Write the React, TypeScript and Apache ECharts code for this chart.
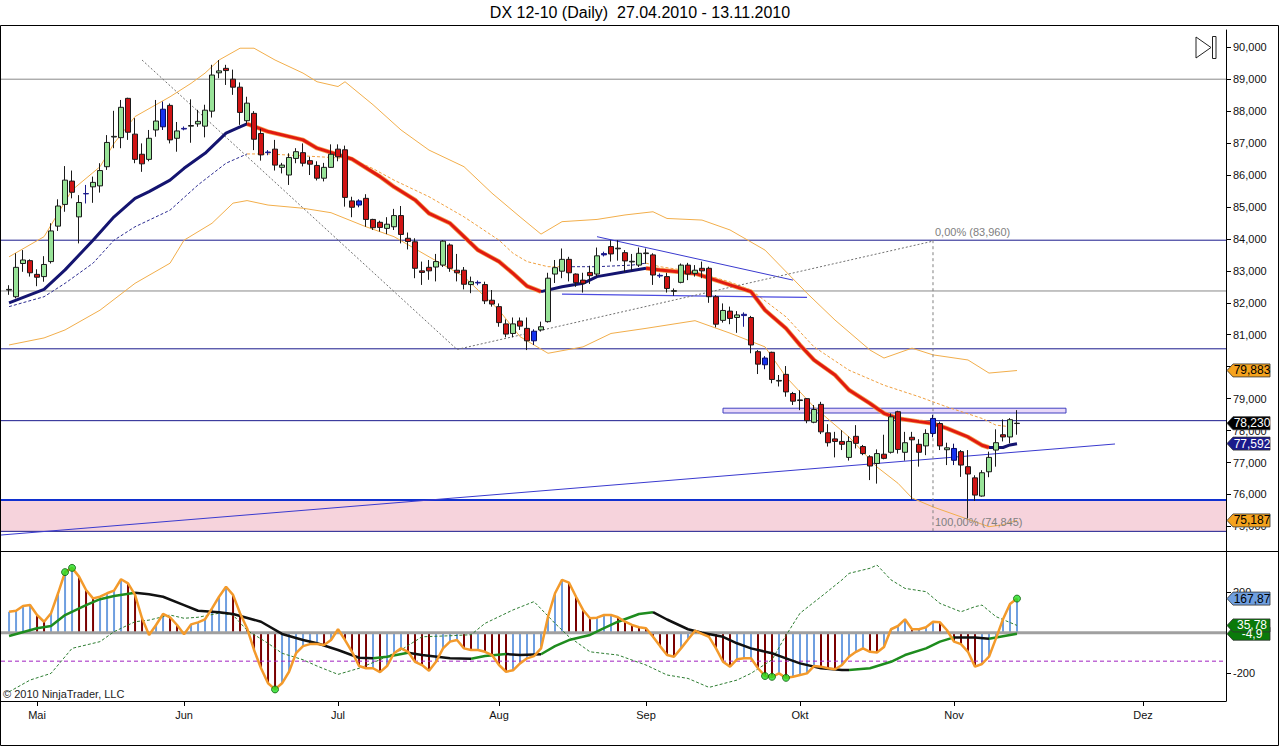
import React, { useEffect, useRef } from 'react';
import * as echarts from 'echarts';

// daily bars, index 0 = 27.04.2010
const opens = [82.40, 82.19, 83.23, 83.32, 82.89, 82.82, 83.29, 84.40, 85.08, 85.81, 84.69, 85.41, 85.63, 85.66, 86.26, 87.19, 87.17, 88.40, 87.28, 86.65,
  86.49, 87.41, 87.51, 88.18, 87.15, 87.44, 87.53, 87.60, 87.53, 88.00, 89.20, 89.34, 89.00, 88.75, 87.70, 87.93, 87.30, 86.72, 86.81, 86.24,
  86.00, 86.52, 86.70, 86.45, 86.30, 85.90, 86.24, 86.81, 86.79, 85.19, 85.06, 85.27, 84.61, 84.52, 84.33, 84.38, 84.73, 84.02, 83.91, 83.00,
  83.11, 83.12, 83.18, 83.81, 83.02, 83.02, 82.57, 82.62, 82.57, 82.08, 81.88, 81.34, 81.04, 81.43, 81.20, 80.81, 81.15, 81.41, 82.90, 82.99,
  83.36, 82.90, 82.71, 82.95, 82.90, 83.50, 83.76, 83.69, 83.57, 83.28, 83.18, 83.54, 83.50, 82.84, 82.82, 82.36, 82.64, 83.18, 82.92, 83.08,
  83.08, 82.19, 81.45, 81.74, 81.54, 81.60, 81.54, 80.47, 80.06, 80.45, 79.55, 79.76, 79.16, 78.94, 79.00, 78.26, 78.82, 77.93, 77.74, 77.66,
  77.16, 77.82, 77.50, 77.18, 76.97, 77.26, 77.32, 78.59, 77.32, 77.79, 77.57, 77.52, 77.91, 78.22, 77.40, 77.44, 77.34, 76.87, 76.52, 75.95,
  76.71, 77.39, 77.87, 77.80, 78.22];
const closes = [82.42, 83.11, 83.34, 82.94, 82.80, 83.20, 84.25, 85.03, 85.84, 85.46, 85.14, 85.42, 85.77, 86.14, 87.02, 87.21, 88.12, 87.34, 86.49, 86.35,
  87.15, 87.69, 88.06, 87.10, 87.38, 87.46, 87.55, 87.68, 88.03, 89.13, 89.26, 89.27, 88.75, 87.96, 88.25, 87.12, 86.63, 86.70, 86.31, 86.31,
  86.55, 86.73, 86.37, 86.34, 85.90, 86.24, 86.65, 86.57, 85.30, 84.99, 85.19, 84.61, 84.35, 84.36, 84.46, 84.73, 84.14, 83.92, 83.08, 82.95,
  83.00, 83.29, 83.93, 83.08, 82.94, 82.58, 82.66, 82.64, 82.06, 81.96, 81.38, 81.02, 81.34, 81.27, 80.81, 81.11, 81.25, 82.77, 83.10, 83.36,
  82.94, 82.63, 82.61, 82.85, 83.47, 83.54, 83.53, 83.71, 83.31, 83.30, 83.55, 83.56, 82.87, 82.86, 82.45, 82.38, 83.18, 82.90, 83.02, 83.00,
  82.19, 81.33, 81.76, 81.51, 81.62, 81.64, 80.68, 80.08, 80.27, 79.60, 79.57, 79.21, 78.92, 78.96, 78.31, 78.66, 77.96, 77.62, 77.66, 77.57,
  77.66, 77.60, 77.28, 76.89, 77.28, 77.13, 78.43, 77.41, 77.62, 77.71, 77.32, 77.91, 78.38, 77.52, 77.46, 77.07, 76.92, 76.64, 75.98, 76.68,
  77.16, 77.62, 77.80, 78.34, 78.23];
const lows = [82.25, 82.14, 82.97, 82.82, 82.52, 82.66, 83.23, 84.25, 84.85, 85.27, 83.86, 85.11, 85.13, 85.45, 86.16, 86.84, 86.84, 87.10, 86.37, 86.10,
  86.43, 87.20, 87.41, 86.99, 86.73, 87.40, 87.01, 87.51, 87.18, 87.80, 89.03, 88.82, 88.51, 87.57, 87.60, 86.78, 86.45, 86.62, 86.14, 86.05,
  85.69, 86.37, 86.27, 86.00, 85.83, 85.80, 86.23, 86.43, 85.01, 84.68, 84.99, 84.38, 84.28, 84.23, 84.15, 84.28, 83.86, 83.67, 82.77, 82.56,
  82.72, 82.67, 83.12, 82.97, 82.67, 82.42, 82.30, 82.55, 81.96, 81.88, 81.25, 80.92, 80.92, 81.15, 80.52, 80.68, 81.10, 81.38, 82.62, 82.77,
  82.67, 82.50, 82.32, 82.59, 82.82, 83.45, 83.29, 83.32, 82.97, 83.01, 83.12, 83.22, 82.56, 82.78, 82.32, 82.22, 82.61, 82.71, 82.82, 82.77,
  82.00, 81.23, 81.38, 81.33, 81.06, 81.25, 80.42, 79.77, 79.92, 79.48, 79.38, 79.06, 78.80, 78.64, 78.23, 78.23, 77.89, 77.50, 77.16, 77.39,
  77.06, 77.44, 77.23, 76.45, 76.34, 77.10, 77.28, 77.28, 77.06, 75.84, 76.87, 77.23, 77.79, 77.39, 76.92, 76.92, 76.55, 75.25, 75.80, 75.93,
  76.54, 76.87, 77.66, 77.60, 77.87];
const highs = [82.55, 83.55, 83.65, 83.36, 83.05, 83.46, 84.49, 85.24, 86.28, 86.14, 85.37, 85.69, 85.95, 86.37, 87.25, 88.01, 88.35, 88.42, 87.78, 86.99,
  87.41, 88.35, 88.30, 88.24, 87.66, 87.52, 88.37, 88.04, 88.20, 89.45, 89.60, 89.45, 89.30, 88.90, 88.45, 88.00, 87.45, 86.78, 87.10, 86.38,
  86.68, 86.84, 86.99, 86.57, 86.43, 86.38, 86.96, 86.96, 86.92, 85.32, 85.24, 85.40, 84.63, 84.57, 84.68, 84.94, 85.03, 84.20, 84.02, 83.29,
  83.34, 83.53, 83.96, 83.86, 83.53, 83.12, 82.82, 82.70, 82.66, 82.40, 81.98, 81.48, 81.54, 81.54, 81.54, 81.17, 81.41, 82.94, 83.34, 83.70,
  83.44, 82.92, 82.94, 83.16, 83.73, 83.60, 83.96, 83.96, 83.65, 83.53, 83.73, 83.70, 83.55, 82.92, 82.94, 82.45, 83.23, 83.25, 83.18, 83.29,
  83.13, 82.24, 81.98, 81.88, 81.74, 81.70, 81.59, 80.52, 80.33, 80.47, 79.74, 80.02, 79.21, 79.26, 79.02, 78.80, 78.90, 78.20, 77.96, 78.01,
  77.82, 78.17, 77.55, 77.23, 77.41, 77.87, 78.54, 78.62, 77.96, 77.96, 77.73, 78.04, 78.49, 78.28, 77.62, 77.59, 77.39, 77.39, 76.60, 76.76,
  77.34, 78.04, 78.35, 78.39, 78.64];
const blueBars = [22, 50, 75, 108, 132, 135];
const navyBars = [11, 25, 37, 67, 85, 93, 105];

// moving averages and bands, [bar index, value]
const maFast = [[0, 82.0], [5, 82.42], [8, 83.03], [12, 83.96], [15, 84.69], [18, 85.27], [20, 85.48], [23, 85.84], [25, 86.21], [28, 86.68],
  [31, 87.31], [33, 87.51], [34, 87.6], [37, 87.36], [42, 87.1], [44, 86.84], [49, 86.5], [53, 85.95], [55, 85.63], [58, 85.22], [60, 84.8],
  [63, 84.49], [65, 84.07], [67, 83.65], [70, 83.29], [72, 82.92], [74, 82.52], [76, 82.35], [79, 82.5], [82, 82.61], [84, 82.82], [88, 82.97],
  [91, 83.08], [93, 83.03], [98, 82.92], [103, 82.56], [106, 82.35], [108, 81.77], [111, 81.2], [113, 80.68], [115, 80.21], [118, 79.74],
  [120, 79.27], [123, 78.85], [125, 78.54], [127, 78.38], [130, 78.28], [132, 78.22], [134, 78.07], [137, 77.8], [139, 77.54], [140, 77.47],
  [142, 77.47], [143, 77.55], [144, 77.59]];
const maFastBreaks = [34, 76, 91, 140];
const maSlow = [[0, 81.88], [5, 82.19], [8, 82.61], [12, 83.24], [15, 83.96], [18, 84.38], [23, 84.9], [27, 85.69], [31, 86.37], [34, 86.66],
  [37, 86.66], [42, 86.6], [46, 86.55], [49, 86.5], [52, 86.2], [55, 85.84], [60, 85.32], [65, 84.69], [70, 83.96], [72, 83.55], [74, 83.29],
  [77, 83.13], [79, 83.13], [84, 83.13], [89, 83.18], [91, 83.24], [93, 83.13], [98, 82.97], [103, 82.65], [106, 82.4], [111, 81.56],
  [115, 80.62], [120, 79.89], [125, 79.42], [130, 79.06], [134, 78.74], [139, 78.38], [141, 78.17], [143, 78.12]];
const maSlowBreaks = [34, 79, 91];
const upperBand = [[0, 83.44], [5, 84.07], [9, 85.53], [13, 86.26], [15, 86.99], [18, 87.83], [23, 88.45], [26, 88.87], [28, 89.19], [30, 89.6],
  [33, 89.97], [35, 89.97], [38, 89.6], [42, 89.19], [44, 88.92], [47, 88.77], [48, 88.92], [52, 88.2], [56, 87.41], [60, 86.78], [65, 86.26],
  [69, 85.43], [73, 84.69], [76, 84.15], [79, 84.54], [84, 84.61], [88, 84.75], [92, 84.85], [94, 84.64], [99, 84.59], [103, 84.28],
  [108, 83.65], [114, 82.3], [118, 81.46], [123, 80.52], [125, 80.27], [129, 80.58], [132, 80.37], [137, 80.21], [140, 79.8], [144, 79.88]];
const lowerBand = [[0, 80.68], [5, 80.9], [8, 81.15], [13, 81.77], [18, 82.61], [23, 83.24], [25, 83.96], [29, 84.49], [32, 85.12], [34, 85.2],
  [37, 85.06], [42, 84.96], [46, 84.82], [51, 84.38], [55, 84.07], [60, 83.44], [65, 82.82], [70, 81.77], [73, 80.94], [77, 80.42], [82, 80.62],
  [86, 81.04], [91, 81.2], [98, 81.44], [103, 81.05], [108, 80.62], [111, 79.68], [115, 78.74], [120, 77.8], [124, 76.86], [127, 76.35],
  [129, 75.89], [132, 75.61], [136, 75.3], [140, 74.99], [142, 75.05], [144, 75.19]];

// drawn levels and trend lines
const grayLevels = [89.0, 82.37];
const navyLevels = [83.96, 80.56, 78.31];
const zoneTop = 75.83;
const fibHigh = 83.96;
const fibLow = 74.845;
const fibBar = 132;
const trendUp = [[-1.15, 74.73], [158, 77.58]];
const trendDown = [[84, 84.07], [112, 82.71]];
const flatLine = [[79, 82.27], [114, 82.17]];
const fibDiag = [[19, 89.6], [64, 80.54], [132, 83.93]];
const resistBox = [102, 151, 78.55, 78.7];

// oscillator panel
const osc = [103, 108, 131, 136, 87, 54, 96, 194, 298, 319, 276, 210, 169, 177, 194, 207, 263, 243, 186, 71,
  -11, 38, 92, 76, 38, -8, 41, 51, 66, 120, 177, 226, 186, 96, 22, -85, -175, -249, -279, -249,
  -192, -101, -66, -56, -56, -61, -36, 17, -36, -94, -164, -175, -175, -194, -164, -101, -77, -94, -143, -159,
  -187, -143, -77, -44, -36, -77, -85, -85, -94, -110, -159, -192, -185, -151, -126, -115, -77, 79, 194, 260,
  246, 177, 112, 71, 74, 87, 87, 76, 54, 38, 27, 22, -20, -66, -110, -118, -77, -33, 10, -6,
  -20, -77, -143, -167, -131, -126, -126, -175, -213, -217, -200, -222, -217, -208, -200, -164, -167, -175, -180, -159,
  -118, -94, -77, -94, -97, -70, 17, 33, 66, 17, 17, 27, 54, 51, 12, -44, -56, -94, -167, -154,
  -118, -28, 66, 141, 167.87];
const oscAvg = [[0, -16], [4, 22], [6, 33], [8, 87], [11, 136], [13, 165], [15, 181], [18, 197], [20, 189], [22, 177], [25, 136], [27, 108],
  [30, 101], [32, 92], [36, 54], [39, -6], [42, -36], [44, -52], [47, -85], [50, -123], [52, -126], [54, -118], [57, -99], [59, -110],
  [63, -126], [66, -128], [68, -115], [71, -105], [73, -110], [76, -106], [78, -66], [80, -36], [83, -11], [85, 22], [87, 54], [90, 92],
  [92, 101], [94, 65], [97, 17], [99, 0], [102, -20], [104, -52], [106, -77], [109, -101], [111, -126], [113, -151], [116, -175],
  [119, -183], [120, -183], [123, -175], [126, -143], [128, -110], [131, -77], [133, -44], [135, -23], [138, -23], [140, -30], [144, -4.9]];
const oscAvgBreaks = [18, 52, 57, 66, 71, 76, 92, 120, 135, 140];
const oscSignal = [[0, -291], [3, -233], [6, -200], [9, -77], [13, -44], [15, 5], [18, 54], [20, 62], [23, 87], [25, 71], [27, 76], [30, 96],
  [32, 87], [34, 12], [37, -52], [39, -101], [42, -133], [44, -164], [47, -205], [50, -175], [53, -133], [56, -85], [59, -20], [63, -15],
  [66, -10], [68, 46], [72, 112], [75, 153], [78, 46], [80, -20], [83, -94], [87, -110], [91, -159], [94, -208], [97, -225], [100, -269],
  [104, -233], [106, -200], [109, -133], [111, -13], [113, 96], [116, 177], [119, 260], [120, 292], [123, 317], [124, 333], [126, 260],
  [128, 218], [131, 202], [133, 144], [136, 103], [138, 128], [139, 136], [141, 79], [144, 35.78]];
const oscDots = [[8, 298], [9, 319], [38, -279], [108, -213], [109, -217], [111, -222], [144, 167.87]];
const oscLower = -140;

const monthIdx = [4, 25, 47, 70, 91, 113, 135, 162];
const monthNames = ['Mai', 'Jun', 'Jul', 'Aug', 'Sep', 'Okt', 'Nov', 'Dez'];
const priceTicks = [75, 76, 77, 78, 79, 80, 81, 82, 83, 84, 85, 86, 87, 88, 89, 90];
const priceLabels = [75, 76, 77, 78, 79, 81, 82, 83, 84, 85, 86, 87, 88, 89, 90]; // 80,000 sits under the 79,883 tag
const oscTicks = [200, -200];
const priceTags = [
  { v: 79.883, t: '79,883', bg: '#F5A31E', fg: '#000' },
  { v: 78.23, t: '78,230', bg: '#000000', fg: '#fff' },
  { v: 77.592, t: '77,592', bg: '#1A1A8C', fg: '#fff' },
  { v: 75.187, t: '75,187', bg: '#F5A31E', fg: '#000' },
];
const oscTags = [
  { v: 167.87, t: '167,87', bg: '#6F9FE0', fg: '#000' },
  { v: -4.9, t: '-4,9', bg: '#0A7A0A', fg: '#fff' },
  { v: 35.78, t: '35,78', bg: '#0A7A0A', fg: '#fff' },
];

const X_MIN = -1.15;
const X_MAX = 173.86;
const FONT = 'Liberation Sans, Arial, sans-serif';

const segments = (pts: number[][], breaks: number[], colors: string[]) => {
  const b = [-Infinity, ...breaks, Infinity];
  return b.slice(0, -1).map((lo, k) => ({
    data: pts.filter(p => p[0] >= lo && p[0] <= b[k + 1]),
    color: colors[k % colors.length],
  }));
};

const lineS = (data: any[], color: string, width: number, type: any = 'solid', grid = 0, z = 3) => ({
  type: 'line', xAxisIndex: grid, yAxisIndex: grid, data, symbol: 'none', silent: true,
  lineStyle: { color, width, type }, z, animation: false,
});

const App = () => {
  const chartRef = useRef<HTMLDivElement>(null);

  useEffect(() => {
    if (!chartRef.current) return;
    document.body.style.margin = '0';
    const chart = echarts.init(chartRef.current, null, { renderer: 'svg' });

    const candles = opens.map((o, i) => {
      const value = [i, o, closes[i], lows[i], highs[i]];
      if (blueBars.includes(i)) {
        return { value, itemStyle: { color: '#1432F0', color0: '#1432F0', borderColor: '#0A0A60', borderColor0: '#0A0A60' } };
      }
      if (navyBars.includes(i)) {
        return { value, itemStyle: { color: '#1A1A8C', color0: '#1A1A8C', borderColor: '#1A1A8C', borderColor0: '#1A1A8C' } };
      }
      return value;
    });

    const hist = osc.map((v, i) => ({
      value: [i, v],
      itemStyle: { color: i === 0 || v >= osc[i - 1] ? '#6F9FE0' : '#7A0000' },
    }));

    const series: any[] = [];
    // pink zone + resistance box
    series.push({
      ...lineS([[X_MIN, zoneTop], [X_MAX, zoneTop]], '#1030D0', 2, 'solid', 0, 2),
      markArea: {
        silent: true,
        data: [
          [{ yAxis: fibLow, itemStyle: { color: '#F6D3DC' } }, { yAxis: zoneTop }],
          [{ coord: [resistBox[0], resistBox[3]], itemStyle: { color: '#E8D8F8', borderColor: '#4040C0', borderWidth: 1 } },
            { coord: [resistBox[1], resistBox[2]] }],
        ],
      },
    });
    series.push(lineS([[X_MIN, fibLow], [X_MAX, fibLow]], '#1A1A8C', 1, 'solid', 0, 2));
    grayLevels.forEach(y => series.push(lineS([[X_MIN, y], [X_MAX, y]], '#888888', 1, 'solid', 0, 2)));
    navyLevels.forEach(y => series.push(lineS([[X_MIN, y], [X_MAX, y]], '#1A1A8C', 1, 'solid', 0, 2)));
    series.push(lineS(upperBand, '#F2AE4B', 1));
    series.push(lineS(lowerBand, '#F2AE4B', 1));
    segments(maSlow, maSlowBreaks, ['#2A2A90', '#F0A040']).forEach(s => series.push(lineS(s.data, s.color, 1, [3, 2])));
    segments(maFast, maFastBreaks, ['#141470', '#E01A10']).forEach(s => {
      if (s.color === '#E01A10') series.push(lineS(s.data, '#F5A050', 4.5, 'solid', 0, 3));
      series.push(lineS(s.data, s.color, 3, 'solid', 0, 4));
    });
    series.push(lineS(trendUp, '#3A3ACF', 1));
    series.push(lineS(trendDown, '#3A3ACF', 1));
    series.push(lineS(flatLine, '#4B4BE0', 1.2));
    series.push(lineS(fibDiag, '#707070', 1, [2, 2]));
    series.push(lineS([[fibBar, fibHigh], [fibBar, fibLow]], '#808080', 1, [3, 3]));
    series.push({
      type: 'candlestick', xAxisIndex: 0, yAxisIndex: 0, data: candles, barWidth: 5, z: 5,
      encode: { x: 0, y: [1, 2, 3, 4] },
      itemStyle: { color: '#98E398', color0: '#D01414', borderColor: '#1A1A1A', borderColor0: '#1A1A1A', borderWidth: 1 },
    });

    // oscillator
    series.push({ type: 'bar', xAxisIndex: 1, yAxisIndex: 1, data: hist, barWidth: 2, z: 2, silent: true });
    series.push(lineS([[X_MIN, 0], [X_MAX, 0]], '#A0A0A0', 3, 'solid', 1, 3));
    series.push(lineS([[X_MIN, oscLower], [X_MAX, oscLower]], '#A020C0', 1, [4, 3], 1, 3));
    series.push(lineS(oscSignal, '#2E7D32', 1, [3, 2], 1, 4));
    segments(oscAvg, oscAvgBreaks, ['#1E8C1E', '#111111']).forEach(s => series.push(lineS(s.data, s.color, 2.5, 'solid', 1, 5)));
    series.push(lineS(osc.map((v, i) => [i, v]), '#F39A2B', 2.5, 'solid', 1, 6));
    series.push({
      type: 'scatter', xAxisIndex: 1, yAxisIndex: 1, data: oscDots, symbolSize: 7, z: 7, silent: true,
      itemStyle: { color: '#22DD22', borderColor: '#106010', borderWidth: 1 },
    });

    const axisLabelFont = { fontFamily: FONT, fontSize: 11, color: '#111' };
    const axisLine = { show: true, onZero: false, lineStyle: { color: '#000', width: 1 } };
    const option: any = {
      animation: false,
      title: {
        text: 'DX 12-10 (Daily)  27.04.2010 - 13.11.2010', left: 'center', top: 0, padding: [4, 5],
        textStyle: { fontFamily: FONT, fontSize: 16, fontWeight: 'normal', color: '#000' },
      },
      grid: [
        { left: 1, right: 54, top: 30, height: 521, outerBoundsMode: 'none' },
        { left: 1, right: 54, top: 551, height: 150, outerBoundsMode: 'none' },
      ],
      xAxis: [
        { type: 'value', gridIndex: 0, min: X_MIN, max: X_MAX, show: false, axisLine: { onZero: false } },
        {
          type: 'value', gridIndex: 1, min: X_MIN, max: X_MAX, position: 'bottom',
          axisLine,
          axisTick: { show: true, length: 5, customValues: monthIdx, lineStyle: { color: '#000' } },
          axisLabel: {
            ...axisLabelFont, margin: 8, customValues: monthIdx,
            formatter: (v: number) => monthNames[monthIdx.indexOf(v)] ?? '',
          },
          splitLine: { show: false },
        },
      ],
      yAxis: [
        {
          type: 'value', gridIndex: 0, position: 'right', min: 74.23, max: 90.54,
          axisLine,
          axisTick: { show: true, length: 5, customValues: priceTicks, lineStyle: { color: '#000' } },
          axisLabel: {
            ...axisLabelFont, margin: 7, customValues: priceLabels,
            formatter: (v: number) => v.toFixed(3).replace('.', ','),
          },
          splitLine: { show: false },
        },
        {
          type: 'value', gridIndex: 1, position: 'right', min: -336, max: 402,
          axisLine,
          axisTick: { show: true, length: 5, customValues: oscTicks, lineStyle: { color: '#000' } },
          axisLabel: { ...axisLabelFont, margin: 7, customValues: oscTicks, formatter: (v: number) => String(v) },
          splitLine: { show: false },
        },
      ],
      series,
    };
    chart.setOption(option);

    const toY = (v: number, yi: number) => chart.convertToPixel({ yAxisIndex: yi }, v) as number;
    const toXY = (x: number, y: number) => chart.convertToPixel({ gridIndex: 0 }, [x, y]) as number[];
    const tag = (y: number, t: string, bg: string, fg: string) => {
      const x0 = 1227;
      return [
        {
          type: 'polygon', z: 100,
          shape: { points: [[x0, y], [x0 + 6, y - 6.5], [x0 + 43, y - 6.5], [x0 + 43, y + 6.5], [x0 + 6, y + 6.5]] },
          style: { fill: bg, stroke: '#333', lineWidth: 0.8 },
        },
        {
          type: 'text', z: 101, x: x0 + 25, y,
          style: { text: t, fill: fg, font: `12px ${FONT}`, align: 'center', verticalAlign: 'middle' },
        },
      ];
    };
    const fibTop = toXY(fibBar, fibHigh);
    const fibBot = toXY(fibBar, fibLow);
    const graphic: any[] = [
      { type: 'rect', z: 90, shape: { x: 0.5, y: 25.5, width: 1278, height: 720 }, style: { fill: 'none', stroke: '#000', lineWidth: 1 } },
      { type: 'line', z: 90, shape: { x1: 0, y1: 551.5, x2: 1279, y2: 551.5 }, style: { stroke: '#000', lineWidth: 1 } },
      { type: 'polygon', z: 90, shape: { points: [[1196, 37], [1196, 58], [1211, 47.5]] }, style: { fill: '#fff', stroke: '#222', lineWidth: 1 } },
      { type: 'rect', z: 90, shape: { x: 1212.5, y: 36.5, width: 3.5, height: 22 }, style: { fill: '#fff', stroke: '#222', lineWidth: 1 } },
      { type: 'text', z: 90, x: 3, y: 694, style: { text: '© 2010 NinjaTrader, LLC', fill: '#222', font: `11px ${FONT}`, verticalAlign: 'middle' } },
      { type: 'text', z: 90, x: fibTop[0] + 2, y: fibTop[1] - 8, style: { text: '0,00% (83,960)', fill: '#808080', font: `11px ${FONT}`, verticalAlign: 'middle' } },
      { type: 'text', z: 90, x: fibBot[0] + 2, y: fibBot[1] - 9, style: { text: '100,00% (74,845)', fill: '#808080', font: `11px ${FONT}`, verticalAlign: 'middle' } },
    ];
    priceTags.forEach(p => graphic.push(...tag(toY(p.v, 0), p.t, p.bg, p.fg)));
    oscTags.forEach(p => graphic.push(...tag(toY(p.v, 1), p.t, p.bg, p.fg)));
    chart.setOption({ graphic });

    return () => {
      chart.dispose();
    };
  }, []);

  return <div ref={chartRef} style={{ width: '1280px', height: '747px' }} />;
};

export default App;
